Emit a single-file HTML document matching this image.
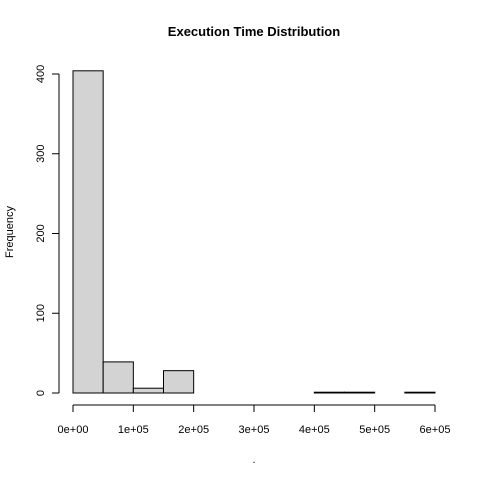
<!DOCTYPE html>
<html><head><meta charset="utf-8"><style>
body{margin:0;background:#fff}
svg text{font-family:"Liberation Sans",Arial,sans-serif;fill:#000}
</style></head><body>
<svg width="480" height="480" id="c">
<text x="254" y="36" text-anchor="middle" font-size="13" font-weight="bold">Execution Time Distribution</text>
<text transform="translate(13,232) rotate(-90)" text-anchor="middle" font-size="11">Frequency</text>
<text x="254" y="463" text-anchor="middle" font-size="11">.</text>
<g id="bars"></g>
<g id="axes"></g>
</svg>
<script>
const binStarts=[0,50000,100000,150000,200000,250000,300000,350000,400000,450000,500000,550000];
const counts=[404,39,6,28,0,0,0,0,1,1,0,1];
const binWidth=50000;
const xTicks=[0,100000,200000,300000,400000,500000,600000];
const xTickLabels=["0e+00","1e+05","2e+05","3e+05","4e+05","5e+05","6e+05"];
const yTicks=[0,100,200,300,400];
const NS="http://www.w3.org/2000/svg";
function X(v){return 73+v*(435-73)/600000;}
function Y(v){return 393-v*(393-74)/400;}
function mk(t,a,p){const e=document.createElementNS(NS,t);for(const k in a)e.setAttribute(k,a[k]);p.appendChild(e);return e;}
const bars=document.getElementById('bars'),axes=document.getElementById('axes');
binStarts.forEach((s,i)=>{
  const x0=X(s),x1=X(s+binWidth),y=Y(counts[i]);
  const r=mk('rect',{x:x0,y:y,width:x1-x0,height:Y(0)-y,fill:'#d3d3d3',stroke:'#000','stroke-width':1},bars);
  
  
});
mk('line',{x1:X(0),x2:X(600000),y1:405,y2:405,stroke:'#000'},axes);
xTicks.forEach((t,i)=>{
  mk('line',{x1:X(t),x2:X(t),y1:405,y2:412,stroke:'#000'},axes);
  const tx=mk('text',{x:X(t),y:433,'text-anchor':'middle','font-size':11},axes);
  tx.textContent=xTickLabels[i];
  
  
});
mk('line',{x1:59,x2:59,y1:Y(0),y2:Y(400),stroke:'#000'},axes);
yTicks.forEach(t=>{
  mk('line',{x1:52,x2:59,y1:Y(t),y2:Y(t),stroke:'#000'},axes);
  const tx=mk('text',{transform:'translate(44,'+Y(t)+') rotate(-90)','text-anchor':'middle','font-size':11},axes);
  tx.textContent=t;
  
  
});
</script>
</body></html>
